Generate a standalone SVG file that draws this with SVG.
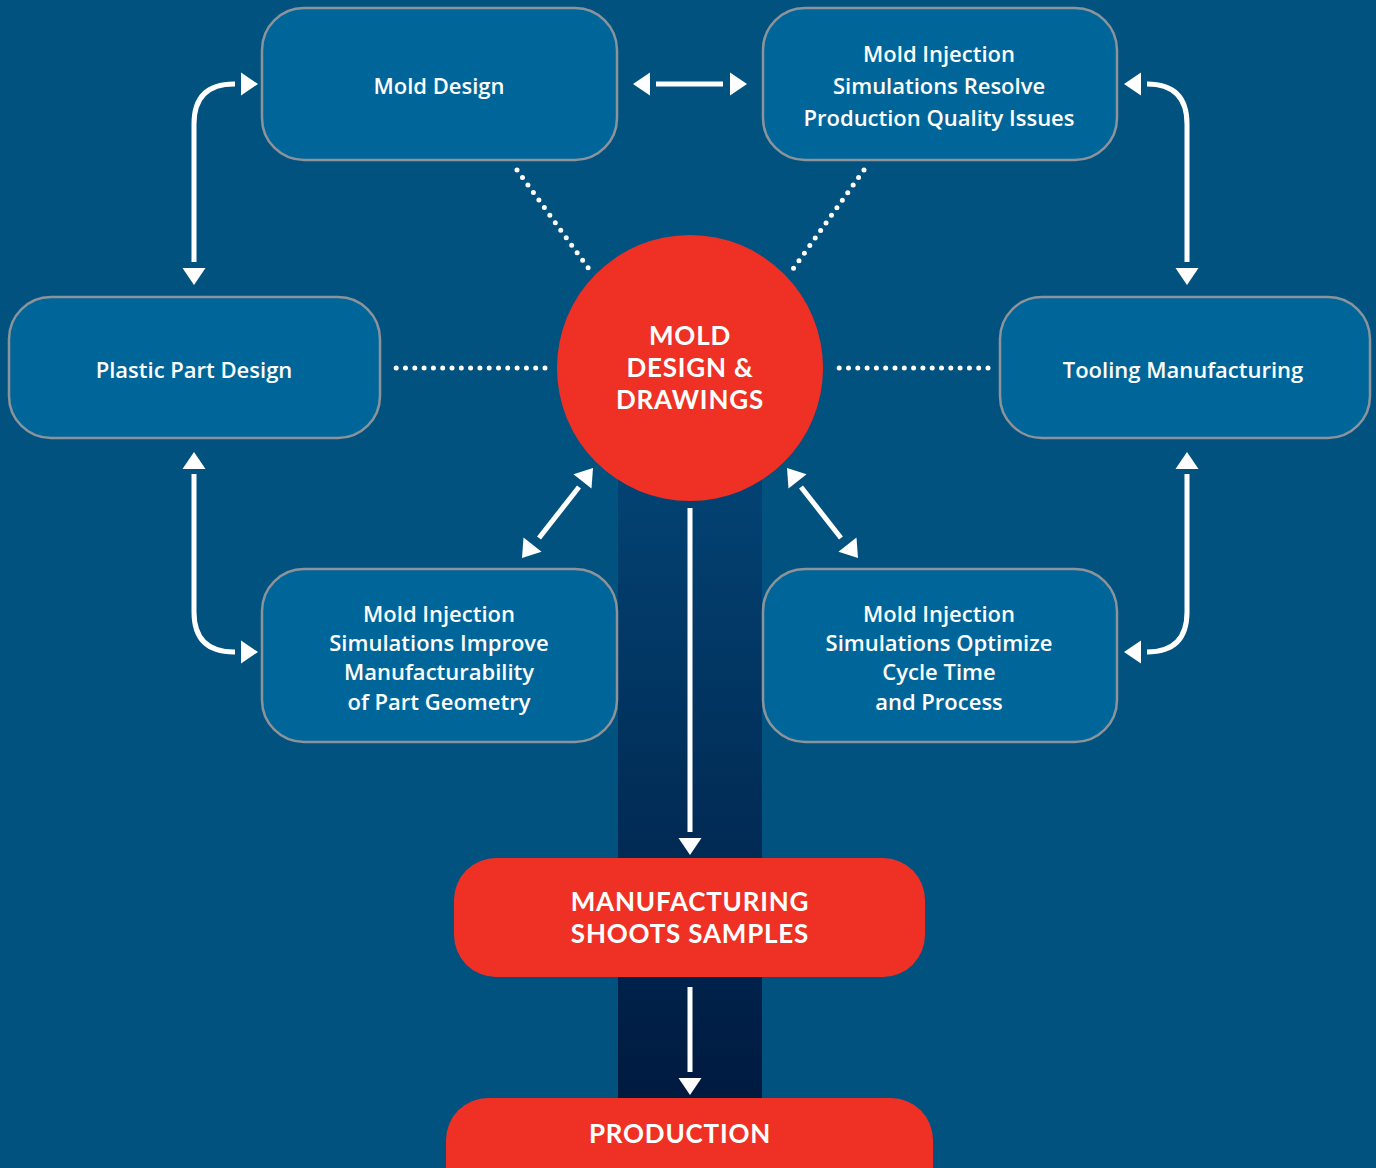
<svg xmlns="http://www.w3.org/2000/svg" width="1376" height="1168" viewBox="0 0 1376 1168">
<defs>
<linearGradient id="band" x1="0" y1="0" x2="0" y2="1">
<stop offset="0" stop-color="#034a7c"/>
<stop offset="1" stop-color="#001a40"/>
</linearGradient>
<polygon id="hd" points="0,0 -17,-11.5 -17,11.5" fill="#fff"/>
</defs>
<style>
.box{fill:#006699;stroke:#8c939b;stroke-width:2.5}
.red{fill:#ee3124}
.t{font-family:"Open Sans","Liberation Sans",sans-serif;font-weight:600;font-size:22px;fill:#fff;text-anchor:middle}
.tb{font-family:Lato,"Open Sans","Liberation Sans",sans-serif;font-weight:700;font-size:26px;letter-spacing:0.8px;fill:#fff;text-anchor:middle}
.arr{fill:none;stroke:#fff;stroke-width:5}
.dot{fill:none;stroke:#fff;stroke-width:5;stroke-linecap:round;stroke-dasharray:0 9.3}
</style>
<rect width="1376" height="1168" fill="#02527f"/>
<rect x="618" y="368" width="144" height="730" fill="url(#band)"/>

<g id="connectors">
<path class="arr" d="M235,84 H234 Q194,84 194,124 V262"/>
<use href="#hd" transform="translate(258,84)"/>
<use href="#hd" transform="translate(194,285) rotate(90)"/>
<path class="arr" d="M656,84 H723"/>
<use href="#hd" transform="translate(633,84) rotate(180)"/>
<use href="#hd" transform="translate(747,84)"/>
<path class="arr" d="M1147,84 Q1187,84 1187,124 V262"/>
<use href="#hd" transform="translate(1124,84) rotate(180)"/>
<use href="#hd" transform="translate(1187,285) rotate(90)"/>
<path class="arr" d="M194,474 V612 Q194,652 234,652 H235"/>
<use href="#hd" transform="translate(194,452) rotate(-90)"/>
<use href="#hd" transform="translate(258,652)"/>
<path class="arr" d="M1187,474 V612 Q1187,652 1147,652"/>
<use href="#hd" transform="translate(1187,452) rotate(-90)"/>
<use href="#hd" transform="translate(1124,652) rotate(180)"/>
<path class="arr" d="M579,487 L539,538"/>
<use href="#hd" transform="translate(593,468) rotate(-51.7)"/>
<use href="#hd" transform="translate(522,558) rotate(128.3)"/>
<path class="arr" d="M801,487 L841,538"/>
<use href="#hd" transform="translate(787,468) rotate(-128.3)"/>
<use href="#hd" transform="translate(858,558) rotate(51.7)"/>
<path class="arr" d="M690,508 V832"/>
<use href="#hd" transform="translate(690,855) rotate(90)"/>
<path class="arr" d="M690,987 V1072"/>
<use href="#hd" transform="translate(690,1095) rotate(90)"/>
<path class="dot" d="M517,170 L589,269"/>
<path class="dot" d="M864,170 L793,269"/>
<path class="dot" d="M545,368 H396"/>
<path class="dot" d="M988,368 H838"/>
</g>

<g id="mold-design">
<rect class="box" x="262" y="8" width="355" height="152" rx="42"/>
<text class="t" x="439" y="94">Mold Design</text>
</g>
<g id="sim-resolve">
<rect class="box" x="763" y="8" width="354" height="152" rx="42"/>
<text class="t" x="939" y="62">Mold Injection</text>
<text class="t" x="939" y="94">Simulations Resolve</text>
<text class="t" x="939" y="126">Production Quality Issues</text>
</g>
<g id="plastic-part">
<rect class="box" x="9" y="297" width="371" height="141" rx="42"/>
<text class="t" x="194" y="378">Plastic Part Design</text>
</g>
<g id="tooling">
<rect class="box" x="1000" y="297" width="370" height="141" rx="42"/>
<text class="t" x="1183" y="378">Tooling Manufacturing</text>
</g>
<g id="sim-improve">
<rect class="box" x="262" y="569" width="355" height="173" rx="42"/>
<text class="t" x="439" y="622">Mold Injection</text>
<text class="t" x="439" y="651">Simulations Improve</text>
<text class="t" x="439" y="680">Manufacturability</text>
<text class="t" x="439" y="710">of Part Geometry</text>
</g>
<g id="sim-optimize">
<rect class="box" x="763" y="569" width="354" height="173" rx="42"/>
<text class="t" x="939" y="622">Mold Injection</text>
<text class="t" x="939" y="651">Simulations Optimize</text>
<text class="t" x="939" y="680">Cycle Time</text>
<text class="t" x="939" y="710">and Process</text>
</g>
<g id="mold-drawings">
<circle class="red" cx="690" cy="368" r="133"/>
<text class="tb" x="690" y="345">MOLD</text>
<text class="tb" x="690" y="377">DESIGN &amp;</text>
<text class="tb" x="690" y="409">DRAWINGS</text>
</g>
<g id="manufacturing">
<rect class="red" x="454" y="858" width="471" height="119" rx="42"/>
<text class="tb" x="690" y="911">MANUFACTURING</text>
<text class="tb" x="690" y="943">SHOOTS SAMPLES</text>
</g>
<g id="production">
<rect class="red" x="446" y="1098" width="487" height="110" rx="42"/>
<text class="tb" x="680" y="1143">PRODUCTION</text>
</g>
</svg>
